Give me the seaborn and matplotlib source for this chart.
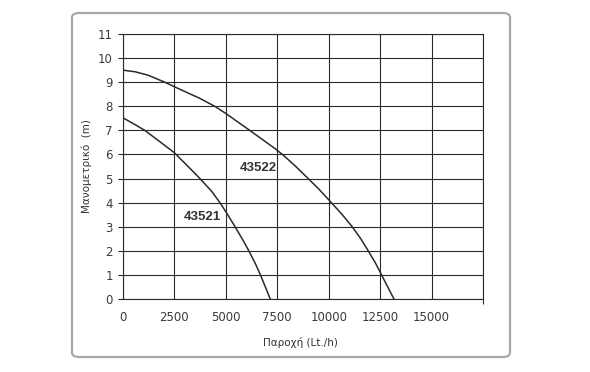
import matplotlib
matplotlib.use("Agg")
import matplotlib.pyplot as plt
from matplotlib.patches import FancyBboxPatch
import seaborn as sns
import pandas as pd

# ---- data ----
flow_43521 = [0, 500, 1060, 1790, 2500, 3420, 3740, 4330, 4750, 5000, 5390, 5840, 6130, 6450, 6690, 7160]
head_43521 = [7.52, 7.28, 7.0, 6.53, 6.07, 5.28, 5.0, 4.45, 3.95, 3.62, 3.08, 2.43, 1.98, 1.44, 0.98, 0.0]

flow_43522 = [0, 600, 1220, 2030, 2500, 3730, 4460, 5000, 6160, 7380, 7780, 8400, 9000, 9490, 10000,
              10670, 11140, 11560, 11920, 12280, 12570, 13170]
head_43522 = [9.5, 9.43, 9.29, 9.0, 8.81, 8.33, 8.0, 7.70, 7.0, 6.25, 5.98, 5.5, 5.0, 4.59, 4.12,
              3.49, 3.0, 2.5, 2.0, 1.48, 1.0, 0.0]

series_labels = ["43521", "43522"]
label_pos = {"43521": (3870, 3.4), "43522": (6560, 5.45)}

x_ticks = [0, 2500, 5000, 7500, 10000, 12500, 15000]
x_grid = [0, 2500, 5000, 7500, 10000, 12500, 15000, 17500]
y_ticks = list(range(0, 12))

x_label = "Παροχή (Lt./h)"
y_label = "Μανομετρικό  (m)"

df = pd.concat([
    pd.DataFrame({"flow": flow_43521, "head": head_43521, "model": "43521"}),
    pd.DataFrame({"flow": flow_43522, "head": head_43522, "model": "43522"}),
])

sns.set_theme(style="white")
plt.rcParams["font.family"] = ["DejaVu Sans"]

fig = plt.figure(figsize=(5.9, 3.72), dpi=100)
fig.patch.set_facecolor("white")

# outer rounded frame
frame = FancyBboxPatch((72 / 590, 1 - 357 / 372), (510 - 72) / 590, (357 - 13) / 372,
                       boxstyle="round,pad=0,rounding_size=0.012",
                       transform=fig.transFigure, facecolor="none",
                       edgecolor="#a8a8a8", linewidth=1.6)
fig.patches.append(frame)

ax = fig.add_axes([123 / 590, 1 - 299 / 372, (483 - 123) / 590, (299 - 34) / 372])
ax.set_facecolor("white")

line_col = "#2a2a2a"
sns.lineplot(data=df, x="flow", y="head", units="model", estimator=None,
             sort=False, color=line_col, linewidth=1.1, ax=ax, legend=False)
for ln in ax.get_lines():
    ln.set_solid_joinstyle("round")

ax.set_xlim(0, 17500)
ax.set_ylim(0, 11)

for xv in x_grid:
    ax.axvline(xv, color=line_col, linewidth=0.8, zorder=0)
for yv in y_ticks:
    ax.axhline(yv, color=line_col, linewidth=0.8, zorder=0)

ax.set_xticks(x_ticks)
ax.set_xticklabels([str(v) for v in x_ticks])
ax.set_xticks([17500], minor=True)
ax.set_yticks(y_ticks)
ax.set_yticklabels([str(v) for v in y_ticks])

ax.tick_params(axis="x", which="major", length=0, pad=8.5, labelsize=8.5, labelcolor="#3a3a3a")
ax.tick_params(axis="x", which="minor", length=3.6, width=0.8, color=line_col, direction="out", bottom=True)
ax.tick_params(axis="y", length=3.6, width=0.8, color=line_col, direction="out",
               pad=3.6, labelsize=8.5, labelcolor="#3a3a3a", left=True)

for s in ax.spines.values():
    s.set_color(line_col)
    s.set_linewidth(0.8)

for name in series_labels:
    x, y = label_pos[name]
    ax.text(x, y, name, ha="center", va="center", fontsize=9.5, fontweight="bold",
            color="#333333", family=["Liberation Sans", "DejaVu Sans"])

ax.set_xlabel("")
ax.set_ylabel("")
fig.text(300 / 590, 1 - 343 / 372, x_label, ha="center", va="center", fontsize=7.5, color="#333333")
fig.text(87 / 590, 1 - 166 / 372, y_label, ha="center", va="center", rotation=90,
         fontsize=7.5, color="#333333")

fig.savefig("out.png", dpi=100)
